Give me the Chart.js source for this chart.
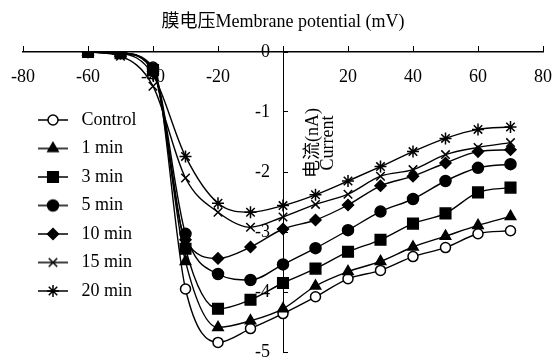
<!DOCTYPE html>
<html><head><meta charset="utf-8">
<script src="https://cdn.jsdelivr.net/npm/chart.js@4.4.1/dist/chart.umd.min.js"></script>
<style>html,body{margin:0;padding:0;background:#fff;}#wrap{width:559px;height:361px;}</style>
</head><body><div id="wrap"><canvas id="c" width="559" height="361"></canvas></div>
<script>
const voltages = [-60, -50, -40, -30, -20, -10, 0, 10, 20, 30, 40, 50, 60, 70];
const seriesNames = ['Control', '1 min', '3 min', '5 min', '10 min', '15 min', '20 min'];
const control = [0, -0.02, -0.25, -3.95, -4.84, -4.61, -4.36, -4.08, -3.78, -3.64, -3.41, -3.26, -3.03, -2.98];
const min1    = [0, -0.02, -0.30, -3.49, -4.59, -4.48, -4.28, -3.90, -3.66, -3.49, -3.25, -3.07, -2.89, -2.74];
const min3    = [0, -0.02, -0.30, -3.28, -4.28, -4.13, -3.85, -3.61, -3.33, -3.13, -2.86, -2.69, -2.34, -2.26];
const min5    = [0, -0.02, -0.28, -3.03, -3.70, -3.80, -3.54, -3.27, -2.97, -2.66, -2.45, -2.15, -1.93, -1.87];
const min10   = [0, -0.02, -0.32, -3.13, -3.44, -3.25, -2.95, -2.80, -2.55, -2.23, -2.07, -1.85, -1.66, -1.63];
const min15   = [0, -0.07, -0.57, -2.10, -2.67, -2.92, -2.75, -2.54, -2.37, -2.07, -1.96, -1.71, -1.59, -1.51];
const min20   = [0, -0.02, -0.38, -1.74, -2.52, -2.67, -2.56, -2.38, -2.15, -1.91, -1.66, -1.44, -1.29, -1.25];
const xTicks = [-80, -60, -40, -20, 0, 20, 40, 60, 80];
const yTicks = [0, -1, -2, -3, -4, -5];
const allSeries = [control, min1, min3, min5, min10, min15, min20];

const FONT = "'Liberation Serif', 'Times New Roman', 'Noto Sans CJK SC', serif";
const FS = 18;
const styles = [
  {pointStyle: 'circle', radius: 5, fill: '#fff'},
  {pointStyle: 'triangle', radius: 6, fill: '#000'},
  {pointStyle: 'rect', radius: 7.5, fill: '#000'},
  {pointStyle: 'circle', radius: 5.5, fill: '#000'},
  {pointStyle: 'rectRot', radius: 5.5, fill: '#000'},
  {pointStyle: 'crossRot', radius: 6, fill: '#000'},
  {pointStyle: 'star', radius: 6, fill: '#000'}
];

function makeIcon(st) {
  const cv = document.createElement('canvas');
  cv.width = 32; cv.height = 16;
  const g = cv.getContext('2d');
  g.strokeStyle = '#000'; g.lineWidth = 1.5;
  g.beginPath(); g.moveTo(1, 8); g.lineTo(31, 8); g.stroke();
  g.fillStyle = st.fill; g.strokeStyle = '#000'; g.lineWidth = 1.5;
  Chart.helpers.drawPoint(g, {pointStyle: st.pointStyle, radius: st.radius, rotation: 0, borderWidth: 1.5}, 16, 8);
  return cv;
}
const icons = styles.map(makeIcon);

const datasets = seriesNames.map((name, i) => ({
  label: name,
  yAxisID: 'y',
  order: seriesNames.length - 1 - i,
  data: voltages.map((v, j) => ({x: v, y: allSeries[i][j]})),
  borderColor: '#000',
  borderWidth: 1.4,
  pointStyle: styles[i].pointStyle,
  pointRadius: styles[i].radius,
  pointBackgroundColor: styles[i].fill,
  pointBorderColor: '#000',
  pointBorderWidth: 1.5,
  cubicInterpolationMode: 'monotone',
  fill: false
}));

const yTitlePlugin = {
  id: 'yTitle',
  beforeDraw(chart) {
    // place the legend box inside the plot, like the reference
    if (chart.legend) { chart.legend.top = 100.5; chart.legend.bottom = 400; }
  },
  afterDraw(chart) {
    const ctx = chart.ctx;
    ctx.save();
    ctx.fillStyle = '#000';
    ctx.font = "18px " + FONT;
    ctx.textAlign = 'center';
    ctx.textBaseline = 'middle';
    ctx.translate(313, 143);
    ctx.rotate(-Math.PI / 2);
    ctx.fillText('电流(nA)', 0, 0);
    ctx.fillText('Current', 0, 15);
    ctx.restore();
  }
};

const zeroPad = s => { s.paddingTop = 0; s.paddingBottom = 0; };

new Chart(document.getElementById('c'), {
  type: 'line',
  data: {datasets},
  options: {
    responsive: false,
    animation: false,
    layout: {padding: {left: 23, right: 16, top: 0, bottom: 4}},
    scales: {
      x: {
        type: 'linear', position: 'top', min: -80, max: 80,
        afterBuildTicks: s => { s.ticks = xTicks.map(v => ({value: v})); },
        ticks: {mirror: true, padding: 14, color: '#000', autoSkip: false, maxRotation: 0,
          font: {family: FONT, size: FS},
          callback: v => (v === 0 ? '' : String(v))},
        grid: {drawOnChartArea: false, drawTicks: true, tickLength: 6, color: '#000', lineWidth: 1},
        border: {display: true, color: '#000', width: 1.5},
        afterFit: s => { s.height = 16; s.paddingLeft = 0; s.paddingRight = 0; }
      },
      y: {
        type: 'linear', position: {x: -4}, min: -5, max: 0,
        afterBuildTicks: s => { s.ticks = yTicks.map(v => ({value: v})); },
        ticks: {color: '#000', font: {family: FONT, size: FS}},
        grid: {display: false},
        border: {display: false},
        afterFit: zeroPad
      },
      yAxisLine: {
        type: 'linear', axis: 'y', position: {x: 0}, min: -5, max: 0,
        afterBuildTicks: s => { s.ticks = yTicks.map(v => ({value: v})); },
        ticks: {display: false},
        grid: {drawOnChartArea: false, drawTicks: true, tickLength: -5, color: '#000', lineWidth: 1},
        border: {display: true, color: '#000', width: 1},
        afterFit: zeroPad
      }
    },
    plugins: {
      title: {display: true, text: '膜电压Membrane potential (mV)', color: '#000',
        font: {family: FONT, size: FS, weight: 'normal'}, padding: {top: 11, bottom: 3.4}},
      legend: {
        position: 'chartArea', align: 'start',
        labels: {
          usePointStyle: true, pointStyleWidth: 39, padding: 10.5, color: '#000',
          font: {family: FONT, size: FS},
          generateLabels: chart => chart.data.datasets.map((ds, i) => ({
            text: ds.label, pointStyle: icons[i], fillStyle: '#000', strokeStyle: '#000',
            fontColor: '#000', lineWidth: 0, hidden: false, datasetIndex: i
          }))
        }
      },
      tooltip: {enabled: false}
    }
  },
  plugins: [yTitlePlugin]
});
</script>
</body></html>
